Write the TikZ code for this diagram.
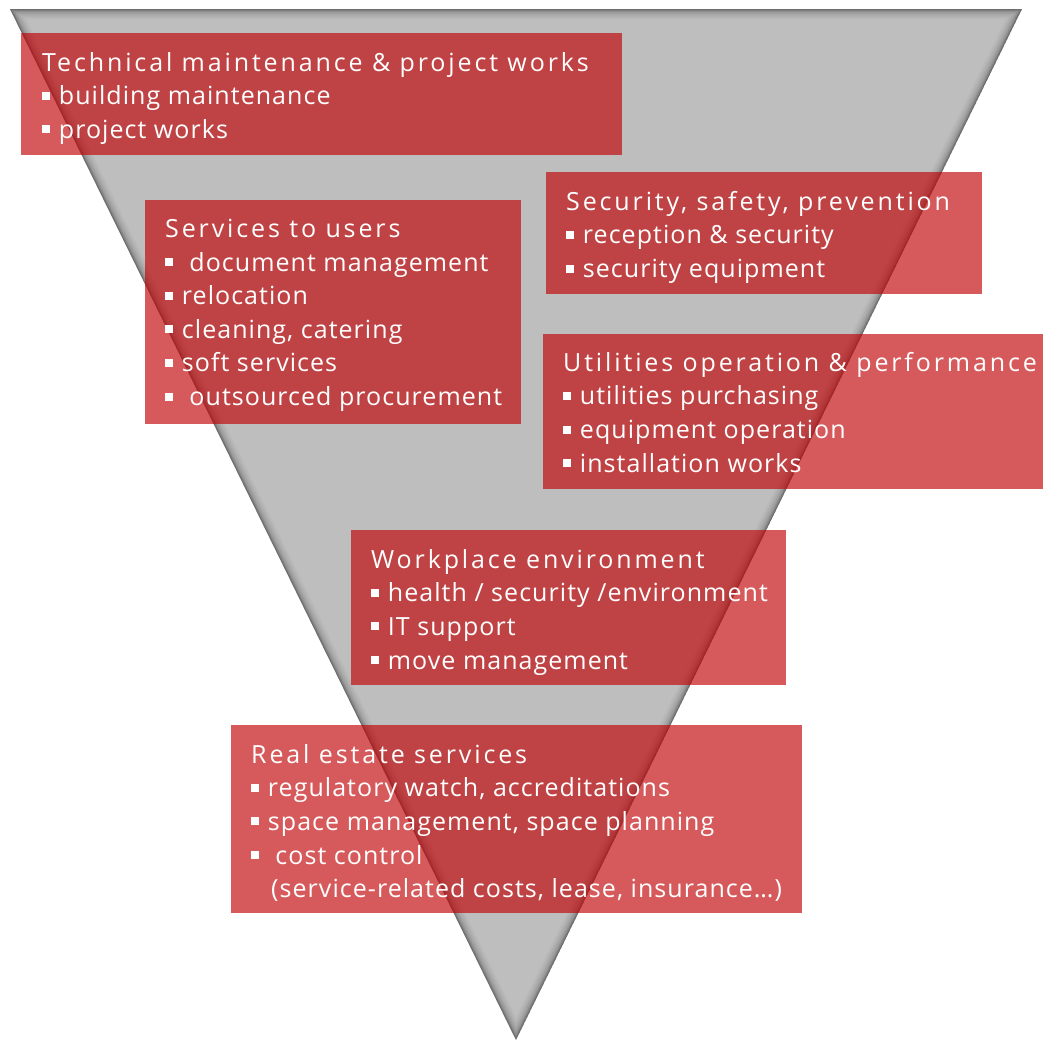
\documentclass[tikz,border=0pt]{standalone}
\usepackage{fontspec}
\setmainfont{Open Sans}[LetterSpace=4.2]
\newfontfamily\titlefont{Open Sans}[LetterSpace=11.5]
\definecolor{boxred}{RGB}{192,2,4}
\definecolor{trigray}{RGB}{190,190,190}
\tikzset{
  x=1pt, y=-1pt,
  box/.style={fill=boxred, fill opacity=0.65, draw=none, inner sep=0, anchor=north west},
  txt/.style={text=white, anchor=north west, align=left, inner sep=0,
    font=\fontsize{25}{33.6}\selectfont},
}
\newcommand{\bul}{\rule[0.2em]{0.32em}{0.32em}\hspace{0.35em}}
\newcommand{\ttl}[1]{{\titlefont #1}}
\begin{document}
\begin{tikzpicture}
\useasboundingbox (0,0) rectangle (1043,1042);
% inverted triangle
\coordinate (tl) at (10,9);
\coordinate (tr) at (1022,9);
\coordinate (ap) at (516,1040);
\begin{scope}
\clip (tl) -- (tr) -- (ap) -- cycle;
\fill[trigray] (tl) -- (tr) -- (ap) -- cycle;
\foreach \w/\o in {20/0.03,16/0.04,12/0.05,9/0.06,6/0.08,4/0.1,2/0.15}{
  \draw[black, line width=\w, opacity=\o, line join=miter] (tl) -- (tr) -- (ap) -- cycle;
}
\end{scope}
% boxes
\node[box, minimum width=601, minimum height=122] (b1) at (21,33) {};
\node[box, minimum width=376, minimum height=224] (b2) at (145,200) {};
\node[box, minimum width=436, minimum height=122] (b3) at (546,172) {};
\node[box, minimum width=500, minimum height=155] (b4) at (543,334) {};
\node[box, minimum width=435, minimum height=155] (b5) at (351,530) {};
\node[box, minimum width=571, minimum height=188] (b6) at (231,725) {};
% texts
\node[txt] (t1) at (42,52) {\ttl{Technical maintenance \& project works}\\
\bul building maintenance\\
\bul project works};
\node[txt] (t2) at (165,219) {\ttl{Services to users}\\
\bul\ document management\\
\bul relocation\\
\bul cleaning, catering\\
\bul soft services\\
\bul\ outsourced procurement};
\node[txt] (t3) at (566,191) {\ttl{Security, safety, prevention}\\
\bul reception \& security\\
\bul security equipment};
\node[txt] (t4) at (563,352) {\ttl{Utilities operation \& performance}\\
\bul utilities purchasing\\
\bul equipment operation\\
\bul installation works};
\node[txt] (t5) at (371,549) {\ttl{Workplace environment}\\
\bul health / security /environment\\
\bul IT support\\
\bul move management};
\node[txt] (t6) at (251,744) {\ttl{Real estate services}\\
\bul regulatory watch, accreditations\\
\bul space management, space planning\\
\bul\ cost control\\
\hspace{0.8em}(service-related costs, lease, insurance…)};
\end{tikzpicture}
\end{document}
